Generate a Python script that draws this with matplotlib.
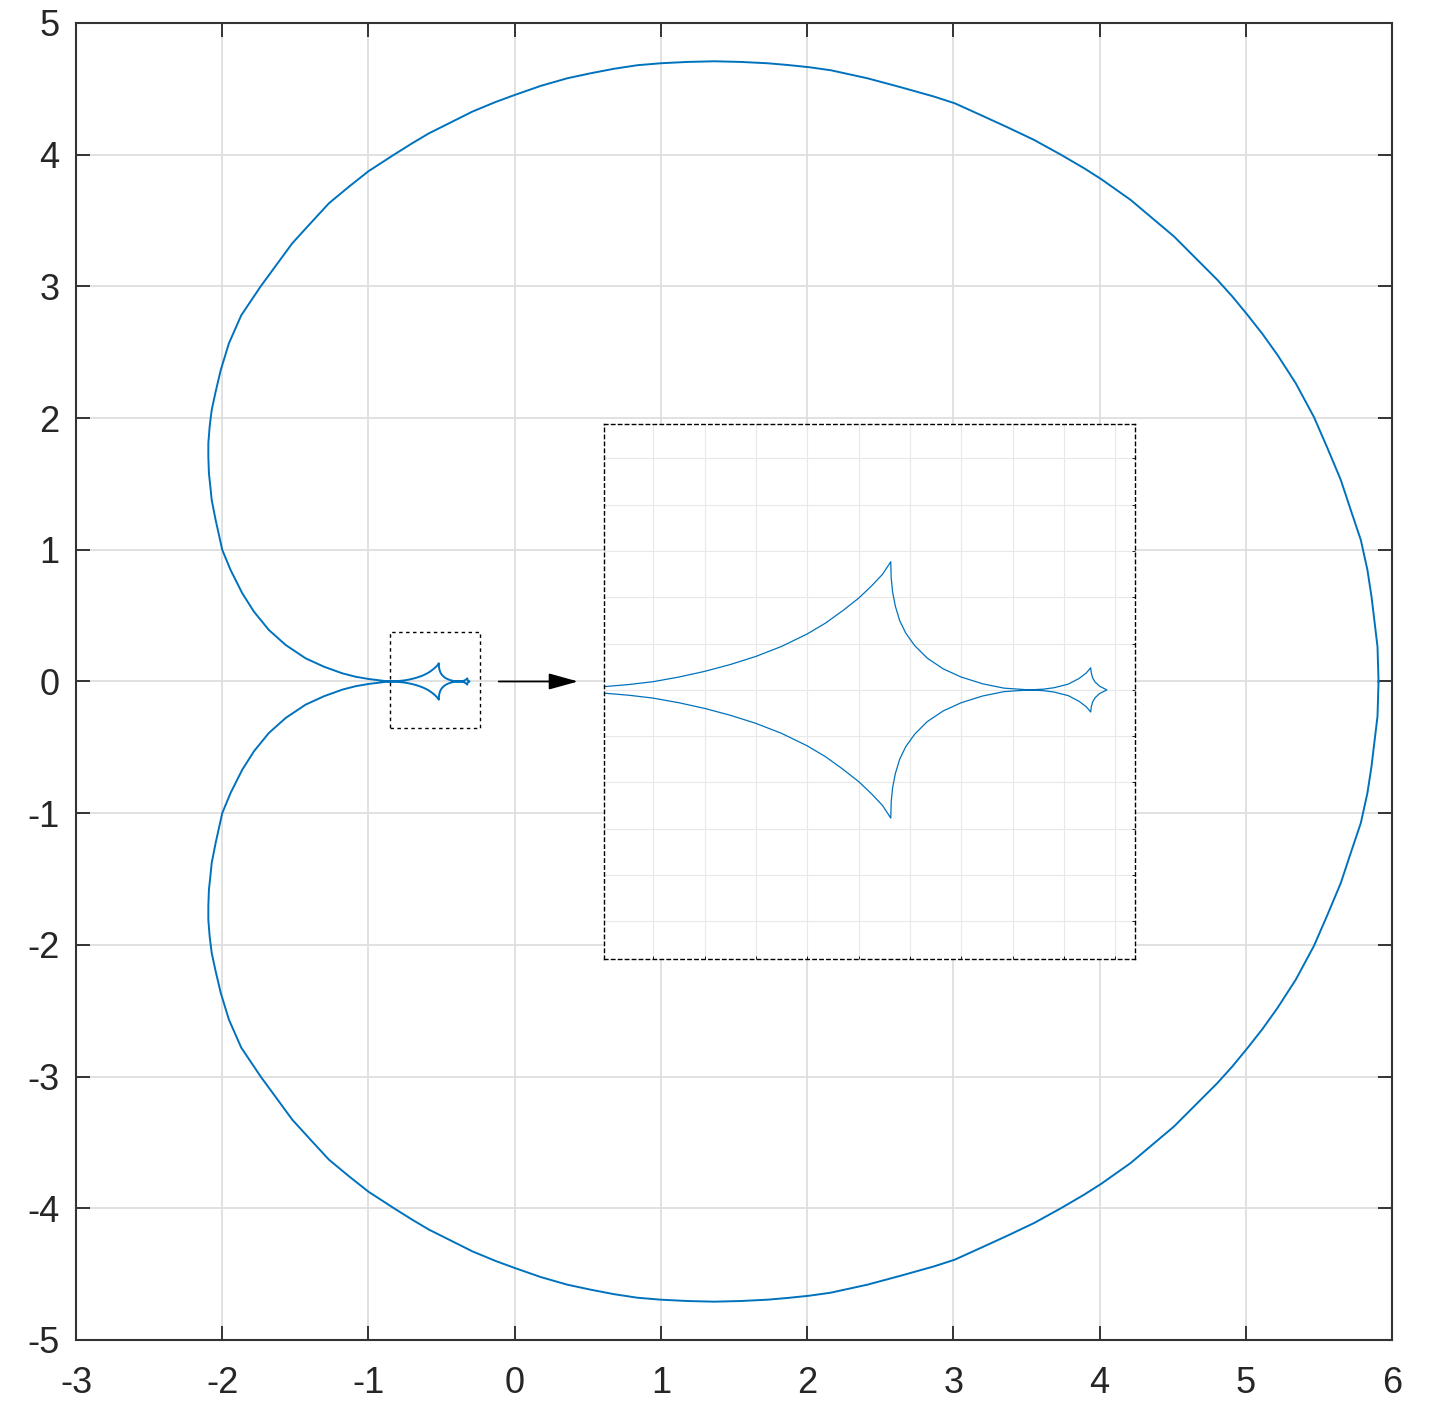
import matplotlib
matplotlib.use("Agg")
import matplotlib.pyplot as plt
import matplotlib.patches as patches
import numpy as np

plt.rcParams['font.family'] = ['Liberation Sans', 'DejaVu Sans']
plt.rcParams['axes.unicode_minus'] = False

# Outer curve, upper half (right end -> left cusp)
outer_x = [5.908, 5.901, 5.882, 5.860, 5.832, 5.787, 5.718, 5.650, 5.559, 5.467,
           5.342, 5.217, 5.114, 5.012, 4.909, 4.806, 4.510, 4.213, 4.013, 3.894,
           3.735, 3.552, 3.370, 3.187, 3.010, 2.868, 2.640, 2.412, 2.161, 2.013,
           1.865, 1.728, 1.546, 1.363, 1.181, 1.000, 0.839, 0.679, 0.520, 0.360,
           0.178, 0.000, -0.130, -0.289, -0.449, -0.586, -0.700, -0.825, -1.000, -1.133,
           -1.270, -1.407, -1.521, -1.737, -1.870, -1.954, -2.010, -2.045, -2.072, -2.086,
           -2.095, -2.095, -2.091, -2.081, -2.072, -2.045, -2.000, -1.943, -1.863, -1.783,
           -1.681, -1.566, -1.430, -1.304, -1.179, -1.088, -1.000, -0.862]
outer_y = [0.000, 0.264, 0.442, 0.644, 0.847, 1.074, 1.302, 1.530, 1.771, 2.006,
           2.264, 2.479, 2.639, 2.783, 2.922, 3.049, 3.378, 3.656, 3.813, 3.897,
           4.000, 4.112, 4.208, 4.301, 4.390, 4.441, 4.512, 4.580, 4.641, 4.664,
           4.681, 4.694, 4.704, 4.709, 4.704, 4.694, 4.679, 4.652, 4.618, 4.580,
           4.522, 4.453, 4.400, 4.327, 4.238, 4.162, 4.087, 4.000, 3.874, 3.757,
           3.631, 3.466, 3.327, 3.000, 2.780, 2.568, 2.365, 2.200, 2.061, 1.935,
           1.809, 1.707, 1.581, 1.479, 1.378, 1.226, 1.000, 0.847, 0.670, 0.530,
           0.391, 0.277, 0.176, 0.112, 0.062, 0.036, 0.019, 0.000]

# Inner cusped curves, upper half (left cusp -> right tip)
inner_x = [-0.862, -0.798, -0.7736, -0.750, -0.725, -0.700, -0.675, -0.650, -0.625, -0.600,
           -0.5824, -0.565, -0.550, -0.5372, -0.5268, -0.5188,
           -0.5184, -0.5170, -0.5143, -0.5101, -0.5042, -0.4955, -0.4833, -0.4677, -0.4503,
           -0.4294, -0.4086, -0.3842,
           -0.3703, -0.3599, -0.3460, -0.3355, -0.3286, -0.3241,
           -0.3237, -0.3223, -0.3199, -0.3154, -0.3084]
inner_y = [0.000, 0.0035, 0.0058, 0.0089, 0.0139, 0.0200, 0.0274, 0.0362, 0.0470, 0.0605,
           0.0721, 0.0860, 0.0991, 0.1126, 0.1249, 0.1384,
           0.1210, 0.1056, 0.0902, 0.0748, 0.0613, 0.0478, 0.0343, 0.0227, 0.0139,
           0.0066, 0.0019, 0.0000,
           0.0008, 0.0023, 0.0062, 0.0123, 0.0181, 0.0239,
           0.0189, 0.0131, 0.0085, 0.0039, 0.0000]

xticks = [-3, -2, -1, 0, 1, 2, 3, 4, 5, 6]
yticks = [-5, -4, -3, -2, -1, 0, 1, 2, 3, 4, 5]

# zoom box and inset limits
box_x = (-0.855, -0.237)
box_y = (-0.355, 0.375)
inset_xlim = (-0.798, -0.281)
inset_ylim = (-0.2907, 0.2876)
inset_ticks_x = [-0.75, -0.70, -0.65, -0.60, -0.55, -0.50, -0.45, -0.40, -0.35, -0.30]
inset_ticks_y = [-0.25, -0.20, -0.15, -0.10, -0.05, 0.0, 0.05, 0.10, 0.15, 0.20, 0.25]
arrow_from = (-0.109, 0.0)
arrow_to = (0.433, 0.0)

# build closed curve: upper half then mirrored lower half
up_x = np.array(outer_x + inner_x[1:])
up_y = np.array(outer_y + inner_y[1:])
curve_x = np.concatenate([up_x, up_x[::-1]])
curve_y = np.concatenate([up_y, -up_y[::-1]])

blue = '#0072BD'
dark = '#262626'

fig = plt.figure(figsize=(14.34, 14.20), dpi=100)
ax = fig.add_axes([0.0530, 0.05634, 0.9177, 0.9275])
ax.plot(curve_x, curve_y, color=blue, lw=1.4, solid_joinstyle='round')
ax.set_xlim(-3, 6)
ax.set_ylim(-5, 5)
ax.set_xticks(xticks)
ax.set_yticks(yticks)
ax.set_xticklabels([str(t) for t in xticks])
ax.set_yticklabels([str(t) for t in yticks])
ax.grid(True, color='#dedede', lw=1.3)
ax.set_axisbelow(True)
ax.tick_params(direction='in', length=10, width=1.3, color=dark, labelsize=26,
               labelcolor=dark, top=True, right=True)
ax.tick_params(axis='x', pad=19)
ax.tick_params(axis='y', pad=12)
for s in ax.spines.values():
    s.set_color('#333333')
    s.set_linewidth(1.5)

rect = patches.Rectangle((box_x[0], box_y[0]), box_x[1] - box_x[0], box_y[1] - box_y[0],
                         fill=False, ec='black', lw=1.0, ls=(0, (2.5, 2.5)), zorder=3)
ax.add_patch(rect)
ax.annotate('', xy=arrow_to, xytext=arrow_from,
            arrowprops=dict(arrowstyle='-|>,head_length=1.8,head_width=0.5',
                            color='black', lw=1.3, mutation_scale=10,
                            shrinkA=0, shrinkB=0))

# inset
ins = fig.add_axes([0.4212, 0.3246, 0.3703, 0.3771])
ins.set_facecolor('white')
ins.plot(curve_x, curve_y, color=blue, lw=0.9, solid_joinstyle='round')
ins.set_xlim(*inset_xlim)
ins.set_ylim(*inset_ylim)
ins.set_xticks(inset_ticks_x)
ins.set_yticks(inset_ticks_y)
ins.grid(True, color='#e8e8e8', lw=0.8)
ins.set_axisbelow(True)
ins.tick_params(direction='in', length=2, width=0.6, color='black',
                labelbottom=False, labelleft=False, left=False, right=True)
for s in ins.spines.values():
    s.set_color('black')
    s.set_linewidth(1.0)
    s.set_linestyle((0, (2.5, 2.5)))

fig.savefig('out.png', dpi=100)
